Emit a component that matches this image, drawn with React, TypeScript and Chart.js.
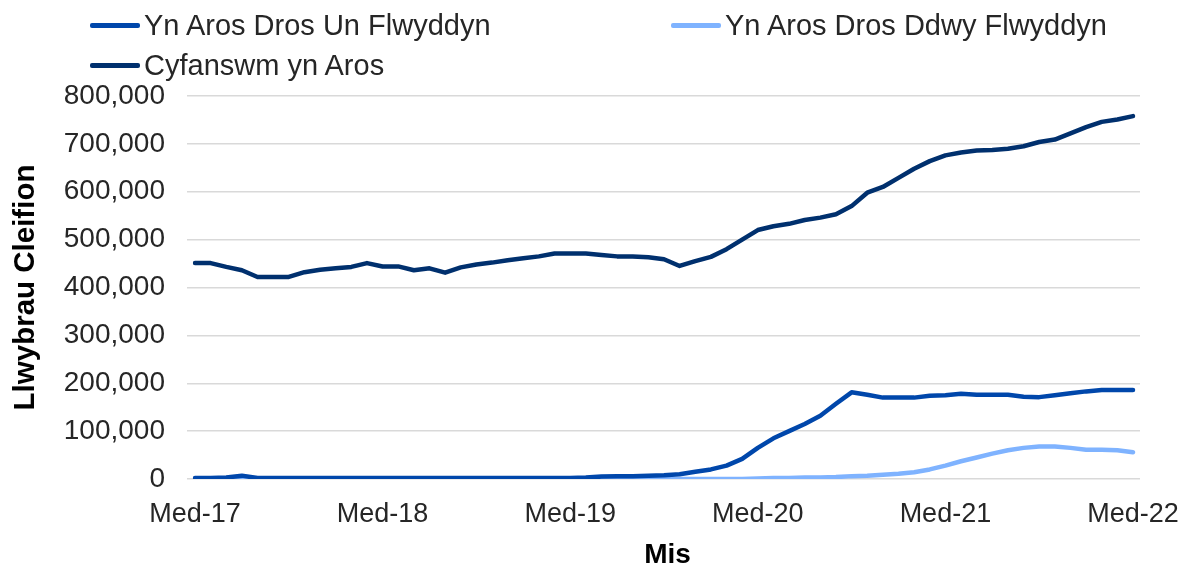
import React, { useEffect, useRef } from "react";
import { Chart, registerables } from "chart.js";

Chart.register(...registerables);

const months = [
  "Med-17", "Hyd-17", "Tach-17", "Rhag-17", "Ion-18", "Chwe-18", "Maw-18", "Ebr-18", "Mai-18", "Meh-18", "Gor-18", "Awst-18",
  "Med-18", "Hyd-18", "Tach-18", "Rhag-18", "Ion-19", "Chwe-19", "Maw-19", "Ebr-19", "Mai-19", "Meh-19", "Gor-19", "Awst-19",
  "Med-19", "Hyd-19", "Tach-19", "Rhag-19", "Ion-20", "Chwe-20", "Maw-20", "Ebr-20", "Mai-20", "Meh-20", "Gor-20", "Awst-20",
  "Med-20", "Hyd-20", "Tach-20", "Rhag-20", "Ion-21", "Chwe-21", "Maw-21", "Ebr-21", "Mai-21", "Meh-21", "Gor-21", "Awst-21",
  "Med-21", "Hyd-21", "Tach-21", "Rhag-21", "Ion-22", "Chwe-22", "Maw-22", "Ebr-22", "Mai-22", "Meh-22", "Gor-22", "Awst-22",
  "Med-22",
];

const overOneYear = [
  2000, 2000, 3000, 7000, 2000, 2000, 2000, 2000, 2000, 2000, 2000, 2000,
  2000, 2000, 2000, 2000, 2000, 2000, 2000, 2000, 2000, 2000, 2000, 2000,
  2000, 3000, 5000, 6000, 6000, 7000, 8000, 10000, 15000, 20000, 28000, 42000,
  65000, 85000, 100000, 115000, 132000, 157000, 181000, 176000, 170000, 170000, 170000, 174000,
  175000, 178000, 176000, 176000, 176000, 172000, 171000, 175000, 179000, 183000, 186000, 186000,
  186000,
];

const overTwoYears = [
  0, 0, 0, 0, 0, 0, 0, 0, 0, 0, 0, 0,
  0, 0, 0, 0, 0, 0, 0, 0, 0, 0, 0, 0,
  0, 0, 0, 0, 0, 0, 0, 0, 0, 0, 0, 0,
  1000, 2000, 2000, 3000, 3000, 4000, 6000, 7000, 9000, 11000, 14000, 20000,
  28000, 37000, 45000, 53000, 60000, 65000, 68000, 68000, 65000, 61000, 61000, 60000,
  56000,
];

const totalWaiting = [
  451000, 451000, 443000, 436000, 422000, 422000, 422000, 432000, 437000, 440000, 443000, 451000,
  444000, 444000, 436000, 440000, 431000, 442000, 448000, 452000, 457000, 461000, 465000, 471000,
  471000, 471000, 468000, 465000, 465000, 463000, 459000, 445000, 455000, 464000, 480000, 500000,
  520000, 528000, 533000, 541000, 546000, 553000, 570000, 598000, 610000, 629000, 648000, 664000,
  676000, 682000, 686000, 687000, 690000, 695000, 704000, 709000, 722000, 735000, 746000, 751000,
  758000,
];

const seriesNames = ["Yn Aros Dros Un Flwyddyn", "Yn Aros Dros Ddwy Flwyddyn", "Cyfanswm yn Aros"];
const seriesColors = ["#0047AB", "#7FB3FF", "#00306E"];
const yTicks = [0, 100000, 200000, 300000, 400000, 500000, 600000, 700000, 800000];

const FONT = "'Liberation Sans', Arial, sans-serif";
const TEXT = "#262626";

// Let the horizontal gridlines run a few pixels past the last category, as in the source chart.
const gridOverhang = {
  id: "gridOverhang",
  afterLayout(chart: any) {
    const s = chart.scales.x;
    if (!s) return;
    s._endPixel -= 7;
    s._length = s._endPixel - s._startPixel;
  },
};

export default function App() {
  const ref = useRef<HTMLCanvasElement>(null);

  useEffect(() => {
    const chart = new Chart(ref.current!, {
      type: "line",
      data: {
        labels: months,
        datasets: [
          { label: seriesNames[0], data: overOneYear, borderColor: seriesColors[0] },
          { label: seriesNames[1], data: overTwoYears, borderColor: seriesColors[1] },
          { label: seriesNames[2], data: totalWaiting, borderColor: seriesColors[2] },
        ].map((d) => ({
          ...d,
          borderWidth: 4.5,
          pointRadius: 0,
          tension: 0,
          fill: false,
          borderCapStyle: "round" as const,
          borderJoinStyle: "round" as const,
        })),
      },
      plugins: [gridOverhang],
      options: {
        responsive: false,
        animation: false,
        layout: { padding: { left: 0, right: 49, top: 96, bottom: 0 } },
        plugins: { legend: { display: false }, tooltip: { enabled: false } },
        scales: {
          x: {
            grid: { display: false, drawTicks: false },
            border: { display: false },
            ticks: {
              autoSkip: false,
              maxRotation: 0,
              padding: 19,
              color: TEXT,
              font: { family: FONT, size: 27 },
              callback: (_v: any, i: number) => (i % 12 === 0 ? months[i] : null),
            },
            title: {
              display: true,
              text: "Mis",
              color: "#000",
              font: { family: FONT, size: 28, weight: "bold", lineHeight: 1 },
              padding: 0,
            },
            afterFit: (s: any) => {
              s.height = 90;
              s.paddingLeft = 0;
              s.paddingRight = 0;
            },
          },
          y: {
            min: 0,
            max: 800000,
            afterBuildTicks: (s: any) => {
              s.ticks = yTicks.map((v) => ({ value: v }));
            },
            ticks: {
              padding: 22,
              color: TEXT,
              font: { family: FONT, size: 28 },
              callback: (v: any) => Number(v).toLocaleString("en-US"),
            },
            grid: { color: "#D9D9D9", lineWidth: 1.5, tickLength: 8 },
            border: { display: false },
            title: {
              display: true,
              text: "Llwybrau Cleifion",
              color: "#000",
              font: { family: FONT, size: 29.5, weight: "bold", lineHeight: 1 },
              padding: { top: 11, bottom: 0 },
            },
            afterFit: (s: any) => {
              s.width = 195;
            },
          },
        },
      },
    });
    return () => chart.destroy();
  }, []);

  const legendText: React.CSSProperties = {
    position: "absolute",
    fontFamily: FONT,
    fontSize: 29,
    color: TEXT,
    lineHeight: "32px",
    whiteSpace: "nowrap",
  };
  const legendLine = (left: number, top: number, color: string): React.CSSProperties => ({
    position: "absolute",
    left,
    top: top - 2,
    width: 50,
    height: 5,
    borderRadius: 2,
    background: color,
  });

  return (
    <div style={{ position: "fixed", left: 0, top: 0, width: 1189, height: 569, background: "#fff" }}>
      <canvas ref={ref} width={1189} height={569} style={{ position: "absolute", left: 0, top: 0 }} />
      <div style={legendLine(90, 25, seriesColors[0])} />
      <div style={{ ...legendText, left: 144, top: 9 }}>{seriesNames[0]}</div>
      <div style={legendLine(671, 25, seriesColors[1])} />
      <div style={{ ...legendText, left: 725, top: 9 }}>{seriesNames[1]}</div>
      <div style={legendLine(90, 65, seriesColors[2])} />
      <div style={{ ...legendText, left: 144, top: 49 }}>{seriesNames[2]}</div>
    </div>
  );
}
